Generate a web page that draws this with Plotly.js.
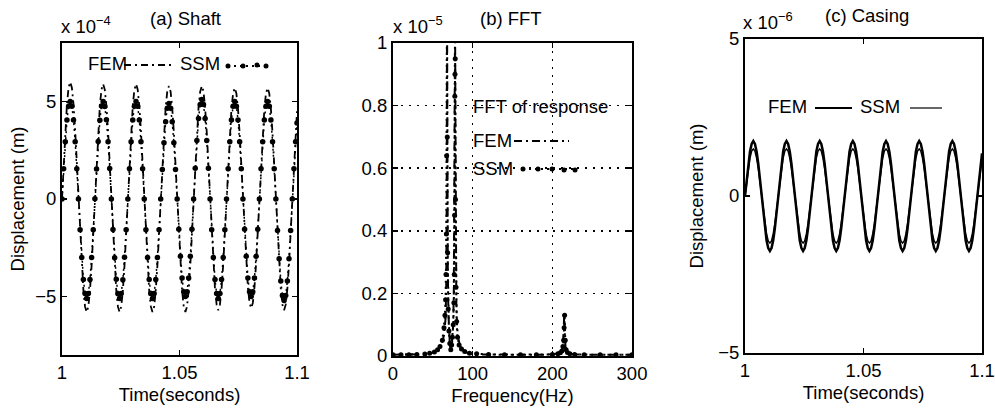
<!DOCTYPE html>
<html>
<head>
<meta charset="utf-8">
<script src="https://cdn.plot.ly/plotly-3.0.1.min.js"></script>
<style>html,body{margin:0;padding:0;background:#fff;}#chart{width:995px;height:415px;}</style>
</head>
<body>
<div id="chart"></div>
<script>
// ---------- DATA ----------
// time samples (s) shared by the shaft and casing responses
const timeS = [1.0000,1.0007,1.0014,1.0021,1.0028,1.0035,1.0042,1.0049,1.0056,1.0063,
1.0070,1.0077,1.0084,1.0091,1.0098,1.0105,1.0112,1.0119,1.0126,1.0133,
1.0140,1.0147,1.0154,1.0161,1.0168,1.0175,1.0182,1.0189,1.0196,1.0203,
1.0210,1.0217,1.0224,1.0231,1.0238,1.0245,1.0252,1.0259,1.0266,1.0273,
1.0280,1.0287,1.0294,1.0301,1.0308,1.0315,1.0322,1.0329,1.0336,1.0343,
1.0350,1.0357,1.0364,1.0371,1.0378,1.0385,1.0392,1.0399,1.0406,1.0413,
1.0420,1.0427,1.0434,1.0441,1.0448,1.0455,1.0462,1.0469,1.0476,1.0483,
1.0490,1.0497,1.0504,1.0511,1.0518,1.0525,1.0532,1.0539,1.0546,1.0553,
1.0560,1.0567,1.0574,1.0581,1.0588,1.0595,1.0602,1.0609,1.0616,1.0623,
1.0630,1.0637,1.0644,1.0651,1.0658,1.0665,1.0672,1.0679,1.0686,1.0693,
1.0700,1.0707,1.0714,1.0721,1.0728,1.0735,1.0742,1.0749,1.0756,1.0763,
1.0770,1.0777,1.0784,1.0791,1.0798,1.0805,1.0812,1.0819,1.0826,1.0833,
1.0840,1.0847,1.0854,1.0861,1.0868,1.0875,1.0882,1.0889,1.0896,1.0903,
1.0910,1.0917,1.0924,1.0931,1.0938,1.0945,1.0952,1.0959,1.0966,1.0973,
1.0980,1.0987,1.0994,1.1000];

// (a) shaft displacement, x 1e-4 m
const shaftFEM = [0,1.85,3.53,4.85,5.71,6.0,5.71,4.85,3.53,1.85,0,-1.79,-3.41,-4.69,-5.52,-5.8,-5.52,-4.69,-3.41,-1.79,
0,1.82,3.47,4.77,5.61,5.9,5.61,4.77,3.47,1.82,0,-1.79,-3.41,-4.69,-5.52,-5.8,-5.52,-4.69,-3.41,-1.79,
0.02,1.83,3.46,4.78,5.6,5.9,5.62,4.76,3.48,1.81,-0.01,-1.8,-3.4,-4.7,-5.51,-5.8,-5.53,-4.68,-3.42,-1.78,
0,1.79,3.41,4.69,5.52,5.8,5.52,4.69,3.41,1.79,0,-1.79,-3.41,-4.69,-5.52,-5.8,-5.52,-4.69,-3.41,-1.79,
0.01,1.8,3.4,4.7,5.5,5.8,5.53,4.68,3.42,1.78,0,-1.76,-3.35,-4.61,-5.42,-5.7,-5.42,-4.61,-3.35,-1.76,
0,1.76,3.35,4.61,5.42,5.7,5.42,4.61,3.35,1.76,0,-1.73,-3.29,-4.53,-5.33,-5.6,-5.33,-4.53,-3.29,-1.73,
0,1.76,3.35,4.61,5.42,5.7,5.42,4.61,3.35,1.76,0,-1.76,-3.35,-4.61,-5.42,-5.7,-5.42,-4.61,-3.35,-1.76,
0,1.78,3.39,4.5];
const shaftSSM = [0,1.55,2.94,4.05,4.76,5.0,4.76,4.05,2.94,1.55,0,-1.58,-3.0,-4.13,-4.85,-5.1,-4.85,-4.13,-3.0,-1.58,
0.01,1.54,2.95,4.04,4.77,5.0,4.75,4.06,2.93,1.56,0,-1.57,-3.01,-4.12,-4.86,-5.1,-4.84,-4.14,-2.99,-1.58,
0,1.55,2.94,4.05,4.76,5.0,4.76,4.05,2.94,1.55,0,-1.58,-3.0,-4.13,-4.85,-5.1,-4.85,-4.13,-3.0,-1.58,
0,1.51,2.88,3.96,4.66,4.9,4.66,3.96,2.88,1.51,0,-1.55,-2.94,-4.05,-4.76,-5.0,-4.76,-4.05,-2.94,-1.55,
0,1.58,3.0,4.13,4.85,5.1,4.85,4.13,3.0,1.58,0,-1.58,-3.0,-4.13,-4.85,-5.1,-4.85,-4.13,-3.0,-1.58,
0,1.55,2.94,4.05,4.76,5.0,4.76,4.05,2.94,1.55,0,-1.55,-2.94,-4.05,-4.76,-5.0,-4.76,-4.05,-2.94,-1.55,
0,1.55,2.94,4.05,4.76,5.0,4.76,4.05,2.94,1.55,0,-1.61,-3.06,-4.21,-4.95,-5.2,-4.95,-4.21,-3.06,-1.61,
0,1.55,2.94,3.9];

// (b) FFT of response, x 1e-5
const freqFEM = [0,10,20,30,40,45,50,54,57,60,62,64,65,66,66.8,67.4,67.8,68.2,68.8,69.5,
70.5,71.5,72.5,73.5,74.5,75.5,76.3,77,77.5,77.9,78.3,78.8,79.5,80.5,82,84,86,88,91,95,
100,110,130,150,170,190,200,206,209,211,212.5,213.5,214.3,215,215.7,216.5,218,220,224,230,
250,270,290,300];
const fftFEM = [0.004,0.004,0.004,0.005,0.006,0.008,0.011,0.016,0.023,0.034,0.046,0.066,0.085,0.12,0.22,0.5,1.15,0.6,0.28,0.14,
0.06,0.03,0.02,0.03,0.05,0.1,0.2,0.45,0.85,1.08,0.8,0.35,0.17,0.09,0.055,0.035,0.025,0.018,0.012,0.009,
0.007,0.005,0.004,0.004,0.004,0.004,0.005,0.006,0.008,0.012,0.02,0.04,0.08,0.135,0.07,0.03,0.014,0.009,0.006,0.005,
0.004,0.004,0.004,0.004];
const freqSSM = [0,10,20,30,40,46,52,56,59,62,64,65.2,66,66.5,67,67.3,67.7,68.1,68.6,69.3,
70.2,71.3,72.5,73.6,74.6,75.6,76.4,76.9,77.3,77.6,77.8,78.1,78.5,79.1,79.9,81,83,86,90,96,
105,120,140,160,180,200,207,210,212,213.3,214.2,214.8,215.4,216.2,217.3,219,222,228,240,260,
280,300];
const fftSSM = [0.004,0.004,0.004,0.005,0.006,0.009,0.013,0.02,0.03,0.05,0.09,0.13,0.18,0.26,0.39,0.64,1.1,0.7,0.33,0.15,
0.08,0.04,0.02,0.035,0.06,0.1,0.17,0.26,0.45,0.83,0.9,0.95,0.5,0.22,0.11,0.06,0.035,0.022,0.014,0.009,
0.007,0.005,0.004,0.004,0.004,0.005,0.007,0.01,0.016,0.03,0.05,0.09,0.13,0.05,0.02,0.011,0.007,0.005,0.004,0.004,
0.004,0.004];

// (c) casing displacement, x 1e-6 m
const casingFEM = [0,0.54,1.03,1.42,1.66,1.75,1.66,1.42,1.03,0.54,0,-0.54,-1.03,-1.42,-1.66,-1.75,-1.66,-1.42,-1.03,-0.54,
0,0.54,1.03,1.42,1.66,1.75,1.66,1.42,1.03,0.54,0,-0.54,-1.03,-1.42,-1.66,-1.75,-1.66,-1.42,-1.03,-0.54,
0,0.54,1.03,1.42,1.66,1.75,1.66,1.42,1.03,0.54,0,-0.54,-1.03,-1.42,-1.66,-1.75,-1.66,-1.42,-1.03,-0.54,
0,0.54,1.03,1.42,1.66,1.75,1.66,1.42,1.03,0.54,0,-0.54,-1.03,-1.42,-1.66,-1.75,-1.66,-1.42,-1.03,-0.54,
0,0.54,1.03,1.42,1.66,1.75,1.66,1.42,1.03,0.54,0,-0.54,-1.03,-1.42,-1.66,-1.75,-1.66,-1.42,-1.03,-0.54,
0,0.54,1.03,1.42,1.66,1.75,1.66,1.42,1.03,0.54,0,-0.54,-1.03,-1.42,-1.66,-1.75,-1.66,-1.42,-1.03,-0.54,
0,0.54,1.03,1.42,1.66,1.75,1.66,1.42,1.03,0.54,0,-0.54,-1.03,-1.42,-1.66,-1.75,-1.66,-1.42,-1.03,-0.54,
0,0.54,1.03,1.36];
const casingSSM = [0,0.46,0.88,1.21,1.43,1.5,1.43,1.21,0.88,0.46,0,-0.46,-0.88,-1.21,-1.43,-1.5,-1.43,-1.21,-0.88,-0.46,
0,0.46,0.88,1.21,1.43,1.5,1.43,1.21,0.88,0.46,0,-0.46,-0.88,-1.21,-1.43,-1.5,-1.43,-1.21,-0.88,-0.46,
0,0.46,0.88,1.21,1.43,1.5,1.43,1.21,0.88,0.46,0,-0.46,-0.88,-1.21,-1.43,-1.5,-1.43,-1.21,-0.88,-0.46,
0,0.46,0.88,1.21,1.43,1.5,1.43,1.21,0.88,0.46,0,-0.46,-0.88,-1.21,-1.43,-1.5,-1.43,-1.21,-0.88,-0.46,
0,0.46,0.88,1.21,1.43,1.5,1.43,1.21,0.88,0.46,0,-0.46,-0.88,-1.21,-1.43,-1.5,-1.43,-1.21,-0.88,-0.46,
0,0.46,0.88,1.21,1.43,1.5,1.43,1.21,0.88,0.46,0,-0.46,-0.88,-1.21,-1.43,-1.5,-1.43,-1.21,-0.88,-0.46,
0,0.46,0.88,1.21,1.43,1.5,1.43,1.21,0.88,0.46,0,-0.46,-0.88,-1.21,-1.43,-1.5,-1.43,-1.21,-0.88,-0.46,
0,0.46,0.88,1.17];

const timeTicks = [1, 1.05, 1.1];
const timeTickText = ['1', '1.05', '1.1'];
const shaftTicks = [-5, 0, 5];
const shaftTickText = ['\u22125', '0', '5'];
const freqTicks = [0, 100, 200, 300];
const freqTickText = ['0', '100', '200', '300'];
const fftTicks = [0, 0.2, 0.4, 0.6, 0.8, 1];
const fftTickText = ['0', '0.2', '0.4', '0.6', '0.8', '1'];
const casingTicks = [-5, 0, 5];
const casingTickText = ['\u22125', '0', '5'];

// ---------- LAYOUT HELPERS ----------
const W = 995, H = 415;
const px = p => p / W;
const py = p => 1 - p / H;
const FONT = 'Liberation Sans, Arial, Helvetica, sans-serif';
const FS = 18.5;
const GRIDDASH = '2px,6px';

const axisBase = {
  showline: true, linecolor: '#000', linewidth: 2, mirror: 'ticks',
  ticks: 'inside', ticklen: 5, tickwidth: 1.5, tickcolor: '#000',
  showgrid: false, zeroline: false, tickmode: 'array',
  tickfont: {family: FONT, size: FS, color: '#000'}
};
function ax(extra) { return Object.assign({}, axisBase, extra); }

const traces = [
  {x: timeS, y: shaftFEM, xaxis: 'x', yaxis: 'y', mode: 'lines', name: 'FEM',
   line: {color: '#000', width: 1.8, dash: '7px,4px,2px,4px'}},
  {x: timeS, y: shaftSSM, xaxis: 'x', yaxis: 'y', mode: 'lines+markers', name: 'SSM',
   line: {color: '#000', width: 1.5, dash: '2px,4px'}, marker: {color: '#000', size: 5.5}},
  {x: freqFEM, y: fftFEM, xaxis: 'x2', yaxis: 'y2', mode: 'lines', name: 'FEM',
   line: {color: '#000', width: 2, dash: '8px,4px,2px,4px'}},
  {x: freqSSM, y: fftSSM, xaxis: 'x2', yaxis: 'y2', mode: 'lines+markers', name: 'SSM',
   line: {color: '#000', width: 2, dash: '2px,4px'}, marker: {color: '#000', size: 5}},
  {x: timeS, y: casingFEM, xaxis: 'x3', yaxis: 'y3', mode: 'lines', name: 'FEM',
   line: {color: '#000', width: 2.5}},
  {x: timeS, y: casingSSM, xaxis: 'x3', yaxis: 'y3', mode: 'lines', name: 'SSM',
   line: {color: '#000', width: 1.5}}
];

function txt(text, x, y, xanchor, extra) {
  return Object.assign({text: text, x: px(x), y: py(y), xref: 'paper', yref: 'paper',
    xanchor: xanchor || 'left', yanchor: 'middle', showarrow: false,
    font: {family: FONT, size: FS, color: '#000'}}, extra || {});
}
function hline(x0, x1, y, dash, width) {
  return {type: 'line', xref: 'paper', yref: 'paper', x0: px(x0), x1: px(x1), y0: py(y), y1: py(y),
    line: {color: '#000', width: width || 1.5, dash: dash || 'solid'}};
}
function dot(x, y, r) {
  r = r || 2.5;
  return {type: 'circle', xref: 'paper', yref: 'paper', x0: px(x - r), x1: px(x + r), y0: py(y + r), y1: py(y - r),
    fillcolor: '#000', line: {color: '#000', width: 0}};
}

const annotations = [
  txt('(a) Shaft', 185, 18, 'center'),
  txt('(b) FFT', 511, 18, 'center'),
  txt('(c) Casing', 867, 16, 'center'),
  txt('x 10<sup>\u22124</sup>', 59, 25, 'left'),
  txt('x 10<sup>\u22125</sup>', 391, 25, 'left'),
  txt('x 10<sup>\u22126</sup>', 741, 21, 'left'),
  // legends
  txt('FEM', 86, 63, 'left'),
  txt('SSM', 178, 63, 'left'),
  txt('FFT of response', 471, 106, 'left'),
  txt('FEM', 471, 140, 'left'),
  txt('SSM', 471, 168, 'left'),
  txt('FEM', 766, 107, 'left'),
  txt('SSM', 858, 107, 'left')
];

const shapes = [
  hline(124, 171, 65, '7px,4px,2px,4px', 2),
  hline(228, 267, 66, '2px,4px', 2), dot(228, 66), dot(243, 66), dot(257, 65), dot(266, 66),
  hline(514, 569, 141, '8px,4px,2px,4px', 2),
  hline(523, 576, 169, '2px,4px', 2), dot(523, 169), dot(538, 169), dot(552, 169), dot(564, 170), dot(575, 170),
  hline(815, 852, 108, 'solid', 2),
  hline(910, 942, 108, 'solid', 1.2)
];

const titleFont = {family: FONT, size: FS, color: '#000'};
const layout = {
  width: W, height: H,
  margin: {l: 0, r: 0, t: 0, b: 0},
  paper_bgcolor: '#fff', plot_bgcolor: '#fff',
  showlegend: false,
  font: {family: FONT, size: FS, color: '#000'},
  xaxis: ax({domain: [px(62), px(297)], range: [1, 1.1], anchor: 'y',
    tickvals: timeTicks, ticktext: timeTickText,
    title: {text: 'Time(seconds)', font: titleFont, standoff: 6}}),
  yaxis: ax({domain: [py(355), py(43)], range: [-8, 8], anchor: 'x',
    tickvals: shaftTicks, ticktext: shaftTickText,
    title: {text: 'Displacement (m)', font: titleFont, standoff: 6}}),
  xaxis2: ax({domain: [px(393), px(632)], range: [0, 300], anchor: 'y2',
    tickvals: freqTicks, ticktext: freqTickText,
    showgrid: true, gridcolor: '#000', gridwidth: 1.5, griddash: GRIDDASH,
    title: {text: 'Frequency(Hz)', font: titleFont, standoff: 6}}),
  yaxis2: ax({domain: [py(356), py(43)], range: [0, 1], anchor: 'x2',
    tickvals: fftTicks, ticktext: fftTickText,
    showgrid: true, gridcolor: '#000', gridwidth: 1.5, griddash: GRIDDASH}),
  xaxis3: ax({domain: [px(745), px(982)], range: [1, 1.1], anchor: 'y3',
    tickvals: timeTicks, ticktext: timeTickText,
    title: {text: 'Time(seconds)', font: titleFont, standoff: 6}}),
  yaxis3: ax({domain: [py(353), py(39)], range: [-5, 5], anchor: 'x3',
    tickvals: casingTicks, ticktext: casingTickText,
    title: {text: 'Displacement (m)', font: titleFont, standoff: 10}}),
  annotations: annotations,
  shapes: shapes
};

Plotly.newPlot('chart', traces, layout, {staticPlot: true, displayModeBar: false});
</script>
</body>
</html>
